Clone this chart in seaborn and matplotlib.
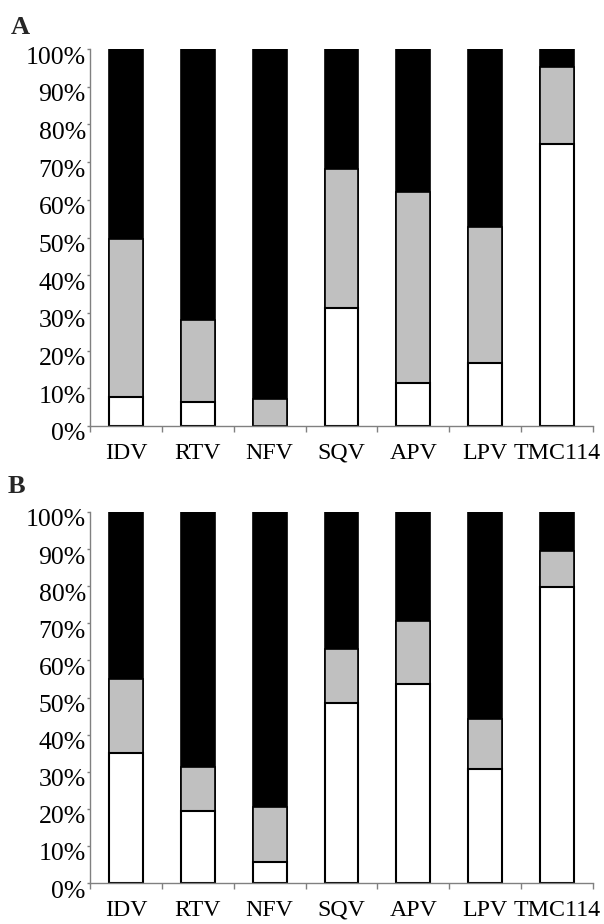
import matplotlib
matplotlib.use("Agg")
import matplotlib.pyplot as plt
import matplotlib.transforms as mtransforms
import seaborn as sns
import pandas as pd
import numpy as np
from matplotlib.ticker import FixedLocator, FuncFormatter

drugs = ["IDV", "RTV", "NFV", "SQV", "APV", "LPV", "TMC114"]
yticks = [0, 10, 20, 30, 40, 50, 60, 70, 80, 90, 100]

# Panel A segment shares (%)
a_white = [7.6, 6.3, 0.0, 31.2, 11.5, 16.8, 74.7]
a_gray = [41.9, 21.8, 7.2, 36.9, 50.5, 36.1, 20.6]
a_black = [50.5, 71.9, 92.8, 31.9, 38.0, 47.1, 4.7]

# Panel B segment shares (%)
b_white = [35.0, 19.5, 5.6, 48.4, 53.6, 30.7, 79.7]
b_gray = [20.1, 11.9, 14.9, 14.7, 17.0, 13.5, 9.7]
b_black = [44.9, 68.6, 79.5, 36.9, 29.4, 55.8, 10.6]

sns.set_theme(style="white")
plt.rcParams["font.family"] = ["Liberation Serif", "DejaVu Serif"]

W, H = 604, 924
DPI = 100
fig = plt.figure(figsize=(W / DPI, H / DPI), dpi=DPI)

def add_ax(left, top, right, bottom):
    return fig.add_axes([left / W, 1 - bottom / H, (right - left) / W, (bottom - top) / H])

axA = add_ax(90, 49, 593, 426)
axB = add_ax(90, 512, 593, 883)

def draw(ax, white, gray, black):
    df = pd.DataFrame({"drug": drugs, "white": white, "gray": gray, "black": black})
    df["top_black"] = df["white"] + df["gray"] + df["black"]
    df["top_gray"] = df["white"] + df["gray"]
    df["top_white"] = df["white"]
    sns.barplot(data=df, x="drug", y="top_black", order=drugs, color="black",
                edgecolor="black", linewidth=1.2, width=0.47, saturation=1, ax=ax)
    sns.barplot(data=df, x="drug", y="top_gray", order=drugs, color="#c0c0c0",
                edgecolor="black", linewidth=1.2, width=0.47, saturation=1, ax=ax)
    dfw = df[df["top_white"] > 0]
    sns.barplot(data=dfw, x="drug", y="top_white", order=drugs, color="white",
                edgecolor="black", linewidth=1.5, width=0.47, saturation=1, ax=ax)
    ax.set_xlim(-0.5, len(drugs) - 0.5)
    ax.set_ylim(0, 100)
    ax.set_xlabel("")
    ax.set_ylabel("")
    ax.yaxis.set_major_locator(FixedLocator(yticks))
    ax.yaxis.set_major_formatter(FuncFormatter(lambda v, p: f"{int(round(v))}%"))
    ax.set_xticks(range(len(drugs)))
    ax.set_xticklabels(drugs)
    ax.xaxis.set_minor_locator(FixedLocator(np.arange(-0.5, len(drugs), 1.0)))
    ax.tick_params(axis="x", which="major", length=0, pad=12, labelsize=17.2, colors="black")
    ax.tick_params(axis="x", which="minor", length=4, width=1, color="#808080", direction="out", bottom=True)
    ax.tick_params(axis="y", which="major", length=2.5, width=1, color="#808080", pad=0.5,
                   labelsize=18.5, labelcolor="black", left=True, direction="out")
    offset = mtransforms.ScaledTranslation(0, -6 / DPI, fig.dpi_scale_trans)
    for lbl in ax.get_yticklabels():
        lbl.set_transform(lbl.get_transform() + offset)
    for s in ["top", "right"]:
        ax.spines[s].set_visible(False)
    for s in ["left", "bottom"]:
        ax.spines[s].set_color("#808080")
        ax.spines[s].set_linewidth(1)
    ax.set_facecolor("white")
    ax.grid(False)

draw(axA, a_white, a_gray, a_black)
draw(axB, b_white, b_gray, b_black)

fig.text(11 / W, 1 - 16 / H, "A", fontsize=19, fontweight="bold", va="top", ha="left")
fig.text(8 / W, 1 - 475 / H, "B", fontsize=19, fontweight="bold", va="top", ha="left")

fig.savefig("out.png", dpi=DPI, facecolor="white")
